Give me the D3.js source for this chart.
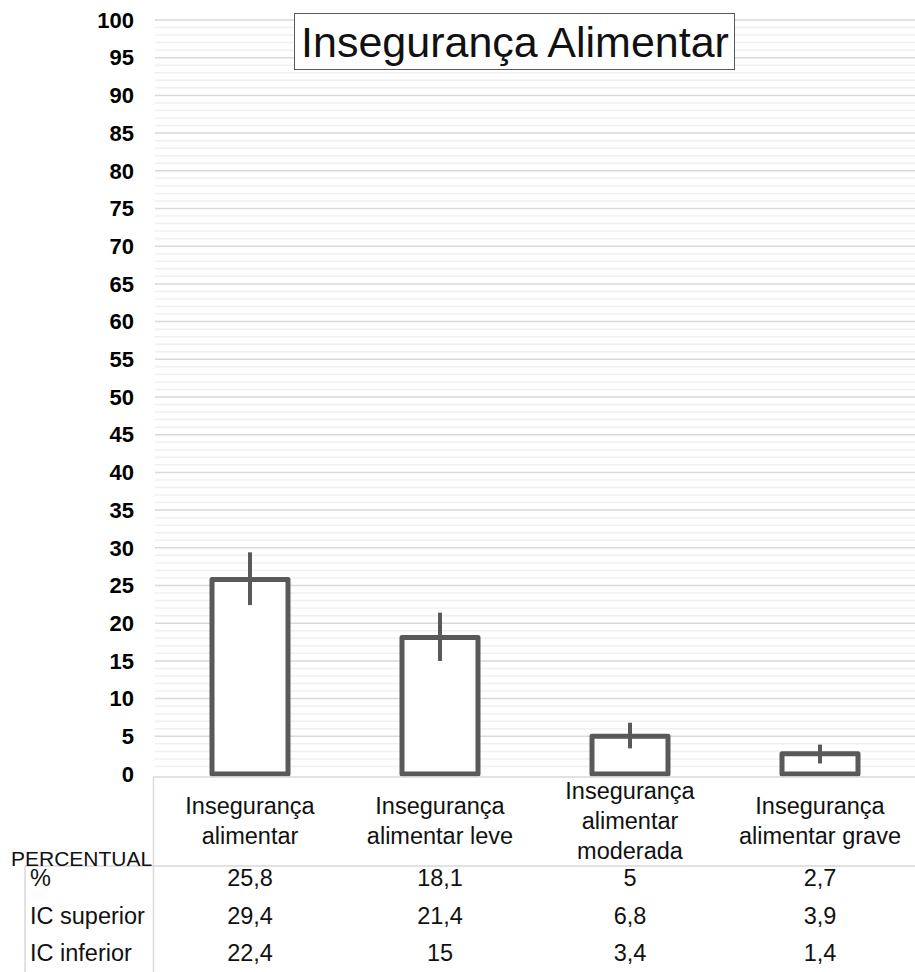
<!DOCTYPE html>
<html lang="en">
<head>
<meta charset="UTF-8" />
<script src="https://d3js.org/d3.v7.min.js"></script>
<title>Insegurança Alimentar</title>
<style>
  body { margin: 0; background: #fff; }
  text { font-family: "Liberation Sans", Arial, sans-serif; }
</style>
</head>
<body>
<script>
// data
var categories = [
  ["Insegurança", "alimentar"],
  ["Insegurança", "alimentar leve"],
  ["Insegurança", "alimentar", "moderada"],
  ["Insegurança", "alimentar grave"]
];
var percent = [25.8, 18.1, 5, 2.7];
var icSuperior = [29.4, 21.4, 6.8, 3.9];
var icInferior = [22.4, 15, 3.4, 1.4];
var rowLabels = ["%", "IC superior", "IC inferior"];
var yTicks = d3.range(0, 101, 5);

var width = 915, height = 972;
var plotLeft = 155, plotRight = 915, plotTop = 20, plotBottom = 774;

var svg = d3.select("body").append("svg")
  .attr("width", width).attr("height", height);

var x = d3.scaleBand().domain(d3.range(categories.length))
  .range([plotLeft, plotRight]);
var barW = x.bandwidth() * 0.4;
var cx = i => x(i) + x.bandwidth() / 2;
var y = d3.scaleLinear().domain([0, 100]).range([plotBottom, plotTop]);

// minor grid
svg.append("g").selectAll("line").data(d3.range(0, 101, 1).filter(d => d % 5 != 0))
  .enter().append("line")
  .attr("x1", plotLeft).attr("x2", plotRight)
  .attr("y1", d => y(d)).attr("y2", d => y(d))
  .attr("stroke", "#f0f0f0").attr("stroke-width", 1.5);

// major grid
svg.append("g").selectAll("line").data(yTicks.filter(d => d > 0))
  .enter().append("line")
  .attr("x1", plotLeft).attr("x2", plotRight)
  .attr("y1", d => y(d)).attr("y2", d => y(d))
  .attr("stroke", "#d9d9d9").attr("stroke-width", 1.5);

// y axis labels
svg.append("g").selectAll("text").data(yTicks)
  .enter().append("text")
  .attr("x", 134).attr("y", d => y(d))
  .attr("dy", "0.35em")
  .attr("text-anchor", "end")
  .style("font-size", "22px").style("font-weight", "bold")
  .text(d => d);

// bars
svg.append("g").selectAll("rect").data(percent)
  .enter().append("rect")
  .attr("x", (d, i) => cx(i) - barW / 2)
  .attr("y", d => y(d))
  .attr("width", barW)
  .attr("height", d => y(0) - y(d))
  .attr("fill", "#fff")
  .attr("stroke", "#595959").attr("stroke-width", 5)
  .attr("stroke-linejoin", "round");

// error bars
svg.append("g").selectAll("line").data(percent)
  .enter().append("line")
  .attr("x1", (d, i) => cx(i))
  .attr("x2", (d, i) => cx(i))
  .attr("y1", (d, i) => y(icSuperior[i]))
  .attr("y2", (d, i) => y(icInferior[i]))
  .attr("stroke", "#595959").attr("stroke-width", 4);

// table lines
var tline = "#d9d9d9";
svg.append("line").attr("x1", plotLeft - 2).attr("x2", plotRight)
  .attr("y1", 777).attr("y2", 777).attr("stroke", tline).attr("stroke-width", 1.5);
svg.append("line").attr("x1", plotLeft - 1.5).attr("x2", plotLeft - 1.5)
  .attr("y1", 777).attr("y2", height).attr("stroke", tline).attr("stroke-width", 1.5);
svg.append("line").attr("x1", 25).attr("x2", plotRight)
  .attr("y1", 866).attr("y2", 866).attr("stroke", tline).attr("stroke-width", 1.5);
svg.append("line").attr("x1", 25).attr("x2", 25)
  .attr("y1", 866).attr("y2", height).attr("stroke", tline).attr("stroke-width", 1.5);

// category labels
var fs = "23.5px";
var cat = svg.append("g").selectAll("text").data(categories)
  .enter().append("text")
  .attr("text-anchor", "middle")
  .style("font-size", fs).attr("fill", "#111");
cat.each(function (d, i) {
  var y0 = 821 - (d.length - 1) * 15;
  d3.select(this).selectAll("tspan").data(d).enter().append("tspan")
    .attr("x", cx(i)).attr("y", (t, j) => y0 + j * 30).attr("dy", "0.35em")
    .text(t => t);
});

svg.append("text").attr("x", 11).attr("y", 859).attr("dy", "0.35em")
  .style("font-size", "21px").attr("fill", "#111").text("PERCENTUAL");

// table rows
var rows = [percent, icSuperior, icInferior];
var rowY = [878, 916, 953];
rows.forEach(function (vals, r) {
  svg.append("text").attr("x", 30).attr("y", rowY[r]).attr("dy", "0.35em")
    .style("font-size", fs).attr("fill", "#111").text(rowLabels[r]);
  svg.append("g").selectAll("text").data(vals).enter().append("text")
    .attr("x", (d, i) => cx(i))
    .attr("y", rowY[r]).attr("dy", "0.35em")
    .attr("text-anchor", "middle")
    .style("font-size", fs).attr("fill", "#111")
    .text(d => String(d).replace(".", ","));
});

// title
var tg = svg.append("g");
tg.append("rect").attr("x", 294.5).attr("y", 13.5).attr("width", 440).attr("height", 56)
  .attr("fill", "#fff").attr("stroke", "#595959").attr("stroke-width", 1);
tg.append("text").attr("x", 515).attr("y", 42).attr("dy", "0.35em")
  .attr("text-anchor", "middle").style("font-size", "43px").attr("fill", "#111")
  .text("Insegurança Alimentar");
</script>
</body>
</html>
